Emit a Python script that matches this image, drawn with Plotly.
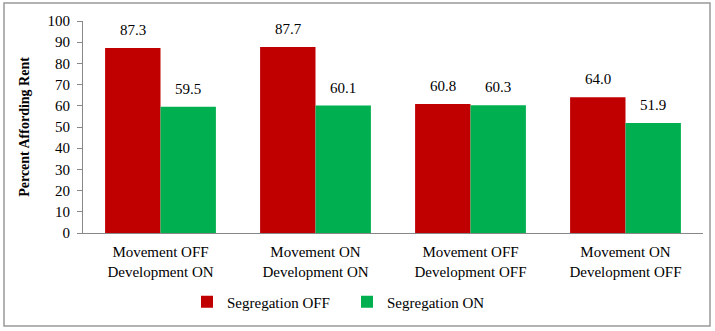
import plotly.graph_objects as go

categories = ["Movement OFF<br>Development ON", "Movement ON<br>Development ON",
              "Movement OFF<br>Development OFF", "Movement ON<br>Development OFF"]
seg_off = [87.3, 87.7, 60.8, 64.0]
seg_on = [59.5, 60.1, 60.3, 51.9]
y_ticks = list(range(0, 101, 10))

FONT = "Liberation Serif, Times New Roman, serif"

fig = go.Figure()
fig.add_trace(go.Bar(x=categories, y=seg_off, name="Segregation OFF",
                     marker=dict(color="#C00000", line=dict(width=0))))
fig.add_trace(go.Bar(x=categories, y=seg_on, name="Segregation ON",
                     marker=dict(color="#00B050", line=dict(width=0))))

annotations = []
for series, shift in ((seg_off, -27.5), (seg_on, 27.5)):
    for c, v in zip(categories, series):
        annotations.append(dict(x=c, y=v, xref="x", yref="y", text=f"{v:.1f}",
                                showarrow=False, xshift=shift, yshift=8, yanchor="bottom",
                                font=dict(size=15, family=FONT, color="#000")))

fig.update_layout(
    width=715, height=331,
    margin=dict(l=83, r=12, t=21, b=98),
    paper_bgcolor="white", plot_bgcolor="white",
    font=dict(family=FONT, size=15, color="#000"),
    barmode="group", bargap=0.285, bargroupgap=0.0,
    showlegend=True,
    legend=dict(orientation="h", x=(187 - 83) / 620, xanchor="left", y=-0.325, yanchor="middle",
                font=dict(size=15, family=FONT), itemwidth=30, traceorder="normal",
                entrywidth=115, entrywidthmode="pixels"),
    xaxis=dict(showline=True, linecolor="#888", linewidth=1, ticks="",
               tickfont=dict(size=15, family=FONT), showgrid=False, ticklabelstandoff=5),
    yaxis=dict(range=[0, 100], tickvals=y_ticks, showline=True, linecolor="#888",
               linewidth=1, ticks="outside", ticklen=5, tickcolor="#888",
               showgrid=False, zeroline=False, ticklabelstandoff=4,
               tickfont=dict(size=15, family=FONT),
               title=dict(text="<b>Percent Affording Rent</b>", font=dict(size=14, family=FONT),
                          standoff=14)),
    annotations=annotations,
    shapes=[dict(type="rect", xref="paper", yref="paper",
                 x0=(4 - 83) / 620, x1=(710 - 83) / 620,
                 y0=-(326 - 233) / 212, y1=1 + (21 - 3) / 212,
                 line=dict(color="#999", width=1.5), fillcolor="rgba(0,0,0,0)", layer="below")],
)

fig.write_html("out.html")
